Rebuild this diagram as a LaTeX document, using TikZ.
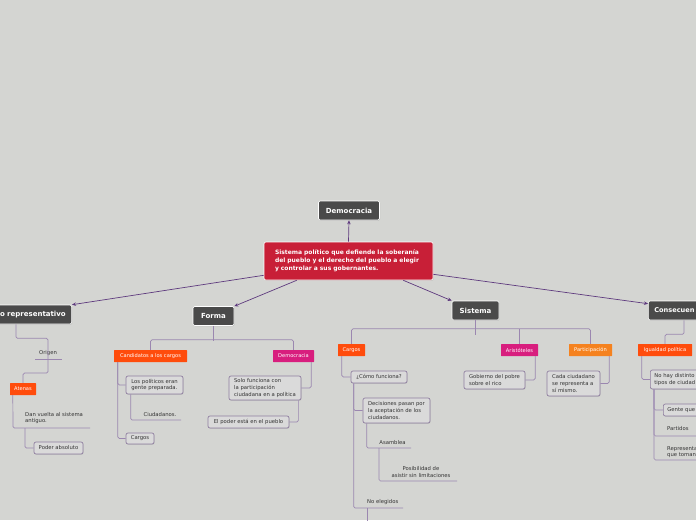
\documentclass[tikz,border=0pt]{standalone}
\usepackage{fontspec}
\setmainfont{DejaVu Sans}
\usepackage{tikz}
\usetikzlibrary{arrows.meta,calc,shadows}
\definecolor{bggray}{HTML}{D4D5D2}
\definecolor{topicgray}{HTML}{4A4A4A}
\definecolor{rootred}{HTML}{C81F37}
\definecolor{tagred}{HTML}{FF4C0C}
\definecolor{tagpink}{HTML}{D81E7E}
\definecolor{tagorange}{HTML}{F5821F}
\definecolor{notefill}{HTML}{DADADA}
\definecolor{notebd}{HTML}{8F7EA0}
\definecolor{linkpurple}{HTML}{9B87B0}
\definecolor{edgepurple}{HTML}{5E3A7E}
\definecolor{inkgray}{HTML}{333333}
\tikzset{topic/.style={draw=white,line width=0.6pt,fill=topicgray,rounded corners=1.5pt,
  text=white,font=\bfseries\fontsize{7}{8}\selectfont,inner sep=0pt,minimum height=19pt,
  drop shadow={shadow xshift=0.6pt,shadow yshift=-0.8pt,opacity=0.25}},
  tag/.style={fill=#1,text=white,font=\fontsize{5.1}{6}\selectfont,inner sep=0pt,
  minimum height=12pt,rounded corners=0.5pt},
  note/.style={draw=notebd,line width=0.7pt,fill=notefill,rounded corners=2pt,text=inkgray,
  font=\fontsize{5.3}{6.6}\selectfont,align=left,inner xsep=4pt,inner ysep=0pt,
  drop shadow={shadow xshift=0.6pt,shadow yshift=-0.8pt,opacity=0.2}},
  txt/.style={text=inkgray,font=\fontsize{5.3}{6.6}\selectfont,align=left,inner sep=0pt},
  edge/.style={-{Stealth[length=4pt,width=3.5pt]},draw=edgepurple,line width=0.7pt},
  link/.style={draw=linkpurple,line width=0.7pt,rounded corners=1.5pt}}

\begin{document}
\begin{tikzpicture}[x=1pt,y=-1pt]
 \fill[bggray] (0,0) rectangle (696,520);
 \useasboundingbox (0,0) rectangle (696,520);
 \clip (0,0) rectangle (696,520);
 % centro
 \node[draw=white,line width=0.6pt,fill=rootred,rounded corners=2pt,minimum width=169pt,
  minimum height=38pt,text width=147pt,align=left,text=white,inner sep=0pt,
  drop shadow={shadow xshift=0.6pt,shadow yshift=-0.8pt,opacity=0.25},
  font=\bfseries\fontsize{6}{8}\selectfont] (root) at (348.5,261)
  {Sistema político que defiende la soberanía\\del pueblo y el derecho del pueblo a elegir\\y controlar a sus gobernantes.};
 \node[topic,minimum width=61pt] (demo) at (349,210.5) {Democracia};
 \node[topic,anchor=east,minimum width=95pt,text width=83pt,align=right,inner xsep=6pt] (gobrep) at (72,314.5) {o representativo};
 \node[topic,minimum width=41pt] (forma) at (213.5,316) {Forma};
 \node[topic,minimum width=47pt] (sistema) at (475.5,310.5) {Sistema};
 \node[topic,anchor=west,text width=60pt,align=left,inner xsep=6pt,
  font=\bfseries\fontsize{6.6}{8}\selectfont] (consec) at (648,310.5) {Consecuen};
 \draw[edge] (root.north) -- (demo.south);
 \draw[edge] ([yshift=5pt]root.south west) -- (gobrep.north east);
 \draw[edge] ([xshift=33pt]root.south west) -- (forma.north east);
 \draw[edge] ([xshift=-30pt]root.south east) -- (sistema.north west);
 \draw[edge] ([yshift=6pt]root.south east) -- ([yshift=-3pt]consec.north west);

 % gobierno representativo
 \node[txt] (origen) at (48,353) {Origen};
 \coordinate (ori) at (48,359);
 \coordinate (ori1) at (35,359);
 \coordinate (ori2) at (62,359);
 \node[tag=tagred,minimum width=26pt] (atenas) at (23,389) {Atenas};
 \node[txt,anchor=north west] (dan) at (25,412) {Dan vuelta al sistema\\antiguo.};
 \coordinate (dan1) at (13,428);
 \coordinate (dan2) at (90,428);
 \coordinate (dan3) at (25,428);
 \node[note,minimum width=49pt,minimum height=12pt] (poder) at (58.5,448) {Poder absoluto};
 \draw[link] ([xshift=-56pt]gobrep.south east) -- ++(0,14) -| (ori);
 \draw[link] (ori1) -- (ori2);
 \draw[link] (ori) -- ++(0,14) -| (atenas.north);
 \draw[link] ([xshift=3pt]atenas.south west) -- (dan1) -- (dan2);
 \draw[link] (dan3) |- (poder.west);

 % forma
 \node[tag=tagred,minimum width=73pt] (cand) at (150.5,356) {Candidatos a los cargos};
 \node[tag=tagpink,minimum width=41pt] (demob) at (293.5,356) {Democracia};
 \draw[link] (forma.south) -- ++(0,15);
 \draw[link] (cand.north) -- ++(0,-10) -| (demob.north);
 \node[note,minimum width=57pt,minimum height=18pt] (polit) at (154.5,385) {Los políticos eran\\gente preparada.};
 \node[txt] (ciud) at (160,415) {Ciudadanos.};
 \coordinate (ciud2) at (181,420);
 \node[note,minimum width=28pt,minimum height=11pt] (cargosa) at (140,438.5) {Cargos};
 \draw[link] ([xshift=4pt]cand.south west) |- (polit.west);
 \draw[link] ([xshift=4pt]cand.south west) |- (cargosa.west);
 \draw[link] ([xshift=5pt]polit.south west) |- (ciud2);
 \node[note,minimum width=72pt,minimum height=24pt] (solo) at (265,388) {Solo funciona con\\la participación\\ciudadana en a política};
 \node[note,minimum width=81pt,minimum height=12pt] (pueblo) at (248.5,422) {El poder está en el pueblo};
 \draw[link] ([xshift=-3pt]demob.south east) |- (solo.east);
 \draw[link] ([xshift=-3pt]solo.south east) |- (pueblo.east);

 % sistema
 \node[tag=tagred,minimum width=27pt] (cargosb) at (351.5,350) {Cargos};
 \node[tag=tagpink,minimum width=37pt] (arist) at (519.5,350) {Aristóteles};
 \node[tag=tagorange,minimum width=43pt] (partic) at (590.5,350) {Participación};
 \draw[link] (sistema.south) -- ++(0,15);
 \draw[link] (cargosb.north) -- ++(0,-15) -| (partic.north);
 \draw[link] (arist.north) -- ++(0,-15);
 \node[note,minimum width=56pt,minimum height=12pt] (como) at (379,377) {¿Cómo funciona?};
 \node[note,minimum width=67pt,minimum height=25pt] (decis) at (396.5,410.5) {Decisiones pasan por\\la aceptación de los\\ciudadanos.};
 \node[txt] (asam) at (392.5,443) {Asamblea};
 \coordinate (asam1) at (379,448);
 \coordinate (asam2) at (411,448);
 \node[txt,align=center] (posib) at (421,472) {Posibilidad de\\asistir sin limitaciones};
 \coordinate (posib2) at (457,481);
 \node[txt,anchor=west] (noel) at (367,502) {No elegidos};
 \coordinate (noel1) at (367,508);
 \coordinate (noel2) at (403,508);
 \draw[link] ([xshift=4pt]cargosb.south west) |- (como.west);
 \draw[link] ([xshift=3pt]como.south west) |- (decis.west);
 \draw[link] ([xshift=3pt]como.south west) |- (noel2);
 \draw[link] (noel1) -- ++(0,20);
 \draw[link] ([xshift=4pt]decis.south west) |- (asam2);
 \draw[link] (asam1) |- (posib2);
 \node[note,minimum width=61pt,minimum height=18pt] (gob) at (494.5,380) {Gobierno del pobre\\sobre el rico};
 \node[note,minimum width=53pt,minimum height=25pt] (cada) at (573.5,383.5) {Cada ciudadano\\se representa a\\sí mismo.};
 \draw[link] ([xshift=-3pt]arist.south east) |- (gob.east);
 \draw[link] ([xshift=-3pt]partic.south east) |- (cada.east);

 % consecuencias
 \node[tag=tagred,minimum width=54pt] (igual) at (665,350) {Igualdad política};
 \draw[link] ([xshift=36pt]consec.south west) -- ++(0,14) -| (igual.north);
 \node[note,anchor=west,minimum height=19pt,text width=48pt] (nohay) at (650,379.5) {No hay distinto\\tipos de ciudad};
 \node[note,anchor=west,minimum height=12pt,text width=40pt] (gente) at (663,410) {Gente que};
 \node[txt,anchor=west] (partid) at (667,429) {Partidos};
 \coordinate (partid2) at (700,436);
 \node[txt,anchor=west] (repres) at (667,452) {Representa\\que toman};
 \coordinate (repres2) at (700,460);
 \draw[link] ([xshift=4pt]igual.south west) |- (nohay.west);
 \draw[link] ([xshift=4pt]nohay.south west) |- (gente.west);
 \draw[link] ([xshift=4pt]nohay.south west) |- (partid2);
 \draw[link] ([xshift=4pt]nohay.south west) |- (repres2);
\end{tikzpicture}
\end{document}
